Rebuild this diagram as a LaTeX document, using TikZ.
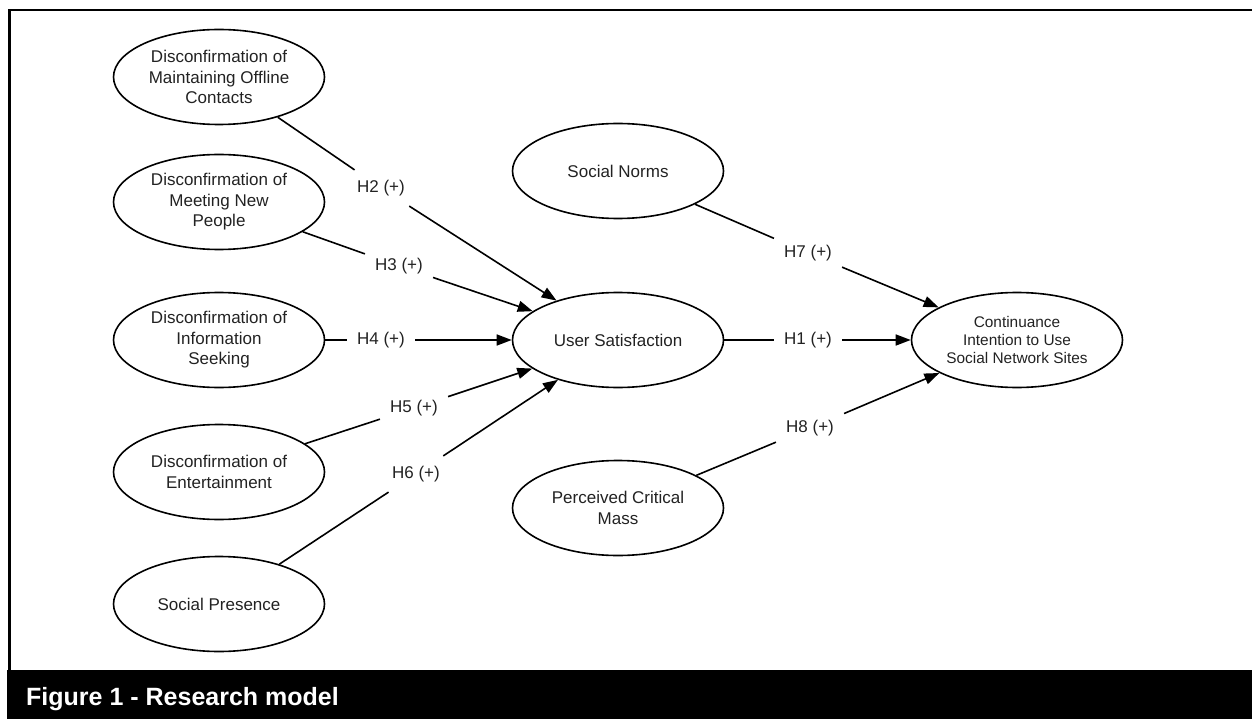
\documentclass[tikz,border=0pt]{standalone}
\usepackage{fontspec}
\setmainfont{Liberation Sans}
\usetikzlibrary{shapes.geometric,arrows.meta}
\definecolor{txt}{RGB}{34,34,34}
\begin{document}
\begin{tikzpicture}[x=1pt,y=-1pt,
  construct/.style={ellipse,draw=black,line width=1.6pt,minimum width=211pt,minimum height=95pt,
    inner sep=0pt,align=center,font=\fontsize{17}{20.5}\selectfont,text=txt},
  smalltext/.style={font=\fontsize{15.4}{18.3}\selectfont},
  hyp/.style={font=\fontsize{17}{20.5}\selectfont,text=txt,inner xsep=10pt,inner ysep=10pt},
  link/.style={line width=1.6pt,draw=black},
  arr/.style={line width=1.6pt,draw=black,-{Triangle[length=15pt,width=11pt]}},
  frame/.style={line width=2.5pt,draw=black,line join=miter},
  captionbar/.style={fill=black},
  captiontext/.style={text=white,font=\bfseries\fontsize{25}{30}\selectfont,inner sep=0pt}]
\useasboundingbox (0,0) rectangle (1252,719);
% frame and caption
\fill[captionbar] (7,670) rectangle (1252,719);
\draw[frame] (1252,10) -- (9.5,10) -- (9.5,670);
\node[captiontext,anchor=base west] (cap) at (26,705) {Figure 1 - Research model};
% constructs
\node[construct] (e1) at (219,77) {Disconfirmation of\\Maintaining Offline\\Contacts};
\node[construct] (e2) at (219,202) {Disconfirmation of\\Meeting New\\People};
\node[construct] (e3) at (219,340) {Disconfirmation of\\Information\\Seeking};
\node[construct] (e4) at (219,472) {Disconfirmation of\\Entertainment};
\node[construct] (e5) at (219,604) {Social Presence};
\node[construct] (us) at (618,340) {User Satisfaction};
\node[construct] (sn) at (618,171) {Social Norms};
\node[construct] (pcm) at (618,508) {Perceived Critical\\Mass};
\node[construct,smalltext] (ci) at (1017,340) {Continuance\\Intention to Use\\Social Network Sites};
% hypothesis labels
\node[hyp] (h2) at (381,188) {H2 (+)};
\node[hyp] (h3) at (399,266) {H3 (+)};
\node[hyp] (h4) at (381,340) {H4 (+)};
\node[hyp] (h5) at (414,408) {H5 (+)};
\node[hyp] (h6) at (416,474) {H6 (+)};
\node[hyp] (h1) at (808,340) {H1 (+)};
\node[hyp] (h7) at (808,253) {H7 (+)};
\node[hyp] (h8) at (810,428) {H8 (+)};
% connectors
\draw[link] (e1) -- (h2); \draw[arr] (h2) -- (us);
\draw[link] (e2) -- (h3); \draw[arr] (h3) -- (us);
\draw[link] (e3) -- (h4); \draw[arr] (h4) -- (us);
\draw[link] (e4) -- (h5); \draw[arr] (h5) -- (us);
\draw[link] (e5) -- (h6); \draw[arr] (h6) -- (us);
\draw[link] (us) -- (h1); \draw[arr] (h1) -- (ci);
\draw[link] (sn) -- (h7); \draw[arr] (h7) -- (ci);
\draw[link] (pcm) -- (h8); \draw[arr] (h8) -- (ci);
\end{tikzpicture}
\end{document}
